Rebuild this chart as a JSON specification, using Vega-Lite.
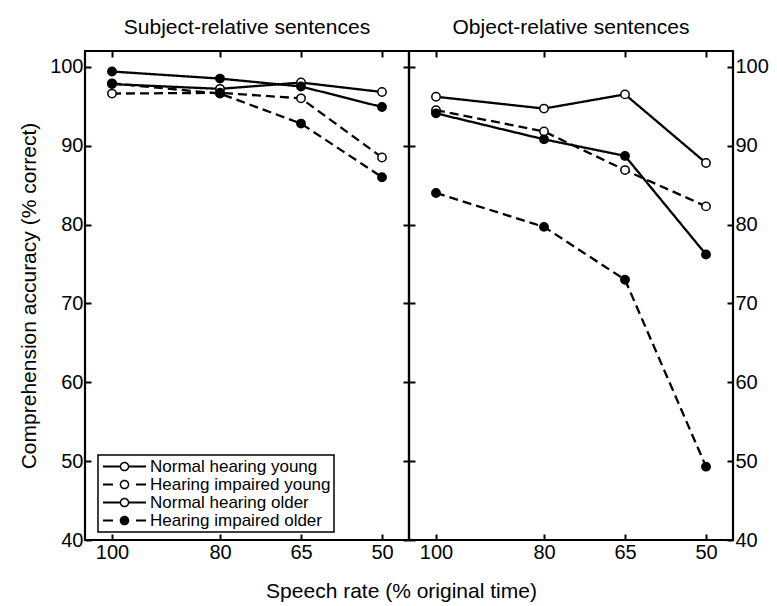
{
  "$schema": "https://vega.github.io/schema/vega-lite/v6.json",
  "background": "white",
  "padding": {"left": 17, "top": 15, "right": 0, "bottom": 0},
  "config": {
    "font": "Liberation Sans",
    "view": {"stroke": "black", "strokeWidth": 2.2},
    "axis": {"labelFont": "Liberation Sans", "labelFontSize": 20, "labelColor": "black", "tickColor": "black", "tickWidth": 2, "tickSize": -6, "domain": false, "grid": false, "titleFont": "Liberation Sans", "titleFontSize": 21, "titleFontWeight": "normal", "titleColor": "black", "labelPadding": 8},
    "title": {"font": "Liberation Sans", "fontSize": 21, "fontWeight": "normal", "color": "black"},
    "legend": {
      "orient": "none", "legendX": 13, "legendY": 404,
      "title": null, "strokeColor": "black", "strokeWidth": 1.5, "fillColor": "white", "padding": 3,
      "symbolSize": 256, "symbolOffset": 15, "labelOffset": 17, "labelLimit": 400,
      "labelFontSize": 17, "labelFont": "Liberation Sans", "labelColor": "black",
      "rowPadding": 0, "symbolStrokeWidth": 0, "symbolFillColor": "black", "symbolOpacity": 1
    }
  },
  "datasets": {
    "subject": [
      {"group": "Normal hearing young", "rate": 100, "acc": 97.8},
      {"group": "Normal hearing young", "rate": 80, "acc": 97.2},
      {"group": "Normal hearing young", "rate": 65, "acc": 98.0},
      {"group": "Normal hearing young", "rate": 50, "acc": 96.8},
      {"group": "Hearing impaired young", "rate": 100, "acc": 96.6},
      {"group": "Hearing impaired young", "rate": 80, "acc": 96.7},
      {"group": "Hearing impaired young", "rate": 65, "acc": 96.0},
      {"group": "Hearing impaired young", "rate": 50, "acc": 88.5},
      {"group": "Normal hearing older", "rate": 100, "acc": 99.4},
      {"group": "Normal hearing older", "rate": 80, "acc": 98.5},
      {"group": "Normal hearing older", "rate": 65, "acc": 97.5},
      {"group": "Normal hearing older", "rate": 50, "acc": 94.9},
      {"group": "Hearing impaired older", "rate": 100, "acc": 97.9},
      {"group": "Hearing impaired older", "rate": 80, "acc": 96.6},
      {"group": "Hearing impaired older", "rate": 65, "acc": 92.8},
      {"group": "Hearing impaired older", "rate": 50, "acc": 86.0}
    ],
    "object": [
      {"group": "Normal hearing young", "rate": 100, "acc": 96.2},
      {"group": "Normal hearing young", "rate": 80, "acc": 94.7},
      {"group": "Normal hearing young", "rate": 65, "acc": 96.5},
      {"group": "Normal hearing young", "rate": 50, "acc": 87.8},
      {"group": "Hearing impaired young", "rate": 100, "acc": 94.5},
      {"group": "Hearing impaired young", "rate": 80, "acc": 91.8},
      {"group": "Hearing impaired young", "rate": 65, "acc": 86.9},
      {"group": "Hearing impaired young", "rate": 50, "acc": 82.3},
      {"group": "Normal hearing older", "rate": 100, "acc": 94.1},
      {"group": "Normal hearing older", "rate": 80, "acc": 90.8},
      {"group": "Normal hearing older", "rate": 65, "acc": 88.7},
      {"group": "Normal hearing older", "rate": 50, "acc": 76.2},
      {"group": "Hearing impaired older", "rate": 100, "acc": 84.0},
      {"group": "Hearing impaired older", "rate": 80, "acc": 79.7},
      {"group": "Hearing impaired older", "rate": 65, "acc": 73.0},
      {"group": "Hearing impaired older", "rate": 50, "acc": 49.3}
    ]
  },
  "title": {"text": "Speech rate (% original time)", "orient": "bottom", "anchor": "middle", "fontSize": 21, "offset": 18, "dx": 8},
  "spacing": 0,
  "bounds": "flush",
  "resolve": {"legend": {"shape": "independent"}},
  "hconcat": [
    {
      "width": 324,
      "height": 489,
      "title": {"text": "Subject-relative sentences", "offset": 12},
      "data": {"name": "subject"},
      "layer": [
        {
          "mark": {"type": "line", "strokeWidth": 2.3, "color": "black"},
          "encoding": {
            "x": {"field": "rate", "type": "quantitative", "scale": {"domain": [45, 105], "reverse": true, "nice": false, "zero": false}, "axis": {"orient": "bottom", "values": [100, 80, 65, 50], "title": null}},
            "y": {"field": "acc", "type": "quantitative", "scale": {"domain": [40, 102], "nice": false, "zero": false}, "axis": {"orient": "left", "values": [40, 50, 60, 70, 80, 90, 100], "title": "Comprehension accuracy (% correct)", "titlePadding": 10}},
            "strokeDash": {
              "field": "group", "type": "nominal",
              "scale": {"domain": ["Normal hearing young", "Hearing impaired young", "Normal hearing older", "Hearing impaired older"], "range": [[1, 0], [9, 5], [1, 0], [9, 5]]},
              "legend": null
            }
          }
        },
        {
          "mark": {"type": "point", "shape": "circle", "filled": true, "size": 70, "stroke": "black", "strokeWidth": 1.5, "opacity": 1},
          "encoding": {
            "x": {"field": "rate", "type": "quantitative", "axis": {"orient": "top", "values": [100, 80, 65, 50], "labels": false, "title": null}},
            "y": {"field": "acc", "type": "quantitative", "axis": {"orient": "right", "values": [40, 50, 60, 70, 80, 90, 100], "labels": false, "title": null}},
            "fill": {"field": "group", "type": "nominal", "scale": {"domain": ["Normal hearing young", "Hearing impaired young", "Normal hearing older", "Hearing impaired older"], "range": ["white", "white", "black", "black"]}, "legend": null}
          }
        },
        {
          "mark": {"type": "point", "filled": true, "color": "black", "strokeWidth": 0, "opacity": 0},
          "encoding": {
            "x": {"field": "rate", "type": "quantitative", "axis": null},
            "y": {"field": "acc", "type": "quantitative", "axis": null},
            "shape": {"field": "group", "type": "nominal", "scale": {"domain": ["Normal hearing young", "Hearing impaired young", "Normal hearing older", "Hearing impaired older"], "range": [
              "M-2.69,-0.14H-0.5V0.14H-2.69ZM0.5,-0.14H2.69V0.14H0.5ZM0.6,0A0.6,0.6,0,1,1,-0.6,0A0.6,0.6,0,1,1,0.6,0ZM0.42,0A0.42,0.42,0,1,0,-0.42,0A0.42,0.42,0,1,0,0.42,0Z",
              "M-2.69,-0.14H-1.44V0.14H-2.69ZM1.44,-0.14H2.69V0.14H1.44ZM0.6,0A0.6,0.6,0,1,1,-0.6,0A0.6,0.6,0,1,1,0.6,0ZM0.42,0A0.42,0.42,0,1,0,-0.42,0A0.42,0.42,0,1,0,0.42,0Z",
              "M-2.69,-0.14H-0.5V0.14H-2.69ZM0.5,-0.14H2.69V0.14H0.5ZM0.6,0A0.6,0.6,0,1,1,-0.6,0A0.6,0.6,0,1,1,0.6,0ZM0.42,0A0.42,0.42,0,1,0,-0.42,0A0.42,0.42,0,1,0,0.42,0Z",
              "M-2.69,-0.14H-1.44V0.14H-2.69ZM1.44,-0.14H2.69V0.14H1.44ZM0.6,0A0.6,0.6,0,1,1,-0.6,0A0.6,0.6,0,1,1,0.6,0Z"
            ]}, "legend": {}}
          }
        }
      ],
      "resolve": {"axis": {"x": "independent", "y": "independent"}}
    },
    {
      "width": 324,
      "height": 489,
      "title": {"text": "Object-relative sentences", "offset": 12},
      "data": {"name": "object"},
      "layer": [
        {
          "mark": {"type": "line", "strokeWidth": 2.3, "color": "black"},
          "encoding": {
            "x": {"field": "rate", "type": "quantitative", "scale": {"domain": [45, 105], "reverse": true, "nice": false, "zero": false}, "axis": {"orient": "bottom", "values": [100, 80, 65, 50], "title": null}},
            "y": {"field": "acc", "type": "quantitative", "scale": {"domain": [40, 102], "nice": false, "zero": false}, "axis": {"orient": "right", "values": [40, 50, 60, 70, 80, 90, 100], "title": null}},
            "strokeDash": {
              "field": "group", "type": "nominal",
              "scale": {"domain": ["Normal hearing young", "Hearing impaired young", "Normal hearing older", "Hearing impaired older"], "range": [[1, 0], [9, 5], [1, 0], [9, 5]]},
              "legend": null
            }
          }
        },
        {
          "mark": {"type": "point", "shape": "circle", "filled": true, "size": 70, "stroke": "black", "strokeWidth": 1.5, "opacity": 1},
          "encoding": {
            "x": {"field": "rate", "type": "quantitative", "axis": {"orient": "top", "values": [100, 80, 65, 50], "labels": false, "title": null}},
            "y": {"field": "acc", "type": "quantitative", "axis": {"orient": "left", "values": [40, 50, 60, 70, 80, 90, 100], "labels": false, "title": null}},
            "fill": {"field": "group", "type": "nominal", "scale": {"domain": ["Normal hearing young", "Hearing impaired young", "Normal hearing older", "Hearing impaired older"], "range": ["white", "white", "black", "black"]}, "legend": null}
          }
        }
      ],
      "resolve": {"axis": {"x": "independent", "y": "independent"}}
    }
  ]
}
